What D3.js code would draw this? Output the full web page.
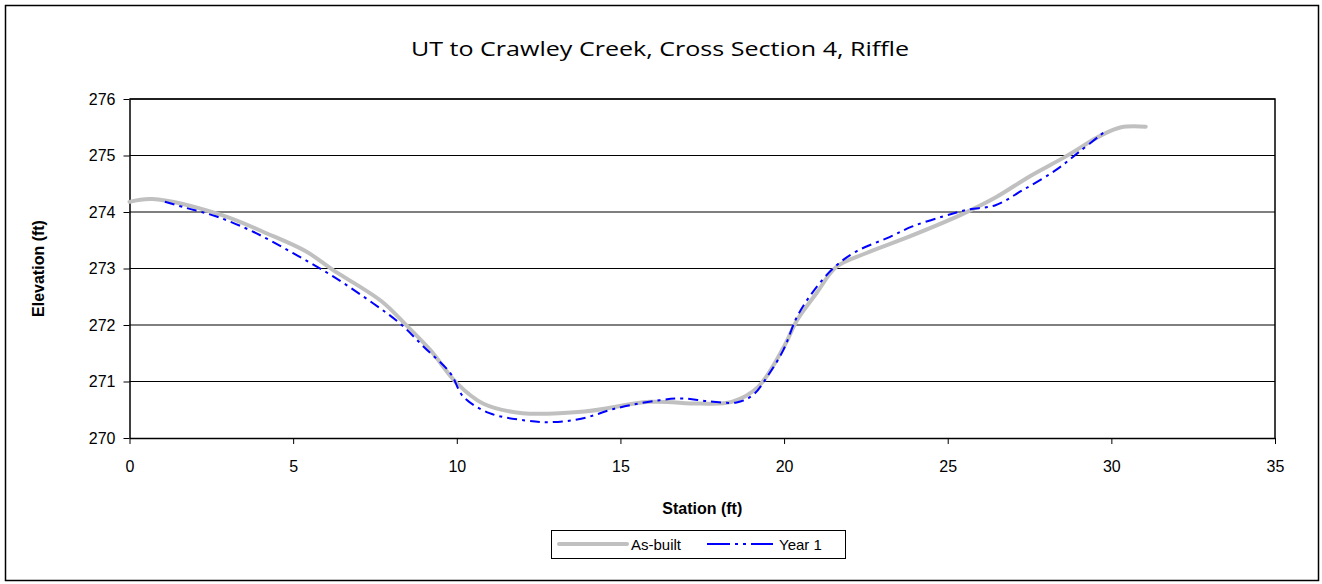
<!DOCTYPE html>
<html>
<head>
<meta charset="utf-8">
<script src="https://cdn.jsdelivr.net/npm/d3@7"></script>
<style>
  html, body { margin: 0; padding: 0; background: #fff; }
  svg { display: block; }
</style>
</head>
<body>
<svg id="chart" width="1322" height="584"></svg>
<script>
// Cross-section survey: station (ft) vs elevation (ft)
const asBuiltStation = [0, 0.7, 2.8, 4.2, 5.4, 6.2, 7.7, 8.5, 9.2, 10.0, 10.8, 12.0, 13.9, 15.9, 17.4, 18.4, 19.2, 20.0, 20.4, 21.0, 21.6, 22.5, 23.8, 25.4, 26.5, 27.5, 28.6, 29.7, 30.3, 31.05];
const asBuiltElev    = [274.18, 274.23, 273.95, 273.62, 273.3, 272.98, 272.42, 271.97, 271.55, 270.97, 270.61, 270.44, 270.47, 270.64, 270.61, 270.64, 270.9, 271.62, 272.09, 272.57, 273.03, 273.27, 273.56, 273.95, 274.27, 274.63, 274.98, 275.36, 275.5, 275.51];

const year1Station = [1.08, 1.75, 2.66, 3.78, 5.0, 6.22, 7.45, 8.26, 8.98, 9.8, 10.2, 11.0, 12.1, 12.85, 13.8, 14.9, 16.2, 16.9, 17.7, 18.55, 19.05, 19.5, 19.98, 20.4, 20.9, 21.55, 22.2, 23.24, 23.9, 24.85, 25.6, 26.46, 27.3, 28.3, 29.03, 29.75];
const year1Elev    = [274.18, 274.07, 273.92, 273.65, 273.27, 272.86, 272.38, 272.03, 271.62, 271.15, 270.73, 270.44, 270.31, 270.28, 270.34, 270.53, 270.67, 270.7, 270.65, 270.63, 270.76, 271.1, 271.56, 272.15, 272.6, 273.03, 273.3, 273.56, 273.74, 273.92, 274.04, 274.12, 274.39, 274.74, 275.07, 275.4];

const xTicks = [0, 5, 10, 15, 20, 25, 30, 35];
const yTicks = [270, 271, 272, 273, 274, 275, 276];

const titleText = "UT to Crawley Creek, Cross Section 4, Riffle";
const xTitle = "Station (ft)";
const yTitle = "Elevation (ft)";
const seriesNames = ["As-built", "Year 1"];

const SANS = "'Liberation Sans', Arial, sans-serif";
const svg = d3.select("#chart").style("font-family", SANS);
const W = 1322, H = 584;
const plot = { left: 129.5, right: 1275, top: 99, bottom: 438 };

// outer chart frame
svg.append("rect")
  .attr("x", 5.5).attr("y", 5.5).attr("width", W - 9).attr("height", H - 9)
  .attr("fill", "#fff").attr("stroke", "#000").attr("stroke-width", 1.5);

const x = d3.scaleLinear().domain([0, 35]).range([plot.left, plot.right]);
const y = d3.scaleLinear().domain([270, 276]).range([plot.bottom, plot.top]);

// horizontal gridlines
svg.append("g")
  .selectAll("line").data(yTicks.slice(1)).join("line")
  .attr("x1", plot.left).attr("x2", plot.right)
  .attr("y1", d => y(d)).attr("y2", d => y(d))
  .attr("stroke", "#000").attr("stroke-width", 1);

// plot area border (top and right)
svg.append("path")
  .attr("d", `M${plot.left},${plot.top}H${plot.right}V${plot.bottom}`)
  .attr("fill", "none").attr("stroke", "#000").attr("stroke-width", 1.5);

// axes
const xAxis = d3.axisBottom(x).tickValues(xTicks).tickFormat(d3.format("d"))
  .tickSize(6).tickSizeOuter(0).tickPadding(17);
const yAxis = d3.axisLeft(y).tickValues(yTicks).tickFormat(d3.format("d"))
  .tickSize(6).tickSizeOuter(0);

const gx = svg.append("g").attr("transform", `translate(0,${plot.bottom})`).call(xAxis);
const gy = svg.append("g").attr("transform", `translate(${plot.left},0)`).call(yAxis);
[gx, gy].forEach(g => {
  g.attr("font-family", SANS).attr("font-size", 16);
  g.select(".domain").attr("stroke", "#000").attr("stroke-width", 1.5);
  g.selectAll(".tick line").attr("stroke", "#000");
  g.selectAll(".tick text").attr("fill", "#000");
});
gy.selectAll(".tick text").attr("x", -14);

// title and axis titles
svg.append("text")
  .attr("x", 660).attr("y", 56).attr("text-anchor", "middle")
  .style("font-family", "'Liberation Sans Narrow', 'Open Sans', sans-serif")
  .attr("font-size", 20).attr("textLength", 498).attr("lengthAdjust", "spacingAndGlyphs")
  .text(titleText);

svg.append("text")
  .attr("x", (plot.left + plot.right) / 2).attr("y", 514).attr("text-anchor", "middle")
  .attr("font-size", 16).attr("font-weight", "bold")
  .text(xTitle);

svg.append("text")
  .attr("transform", `translate(44,${(plot.top + plot.bottom) / 2}) rotate(-90)`)
  .attr("text-anchor", "middle")
  .attr("font-size", 16).attr("font-weight", "bold")
  .text(yTitle);

// series lines
const line = d3.line()
  .x(d => x(d[0])).y(d => y(d[1]))
  .curve(d3.curveCatmullRom.alpha(0.5));

const asBuilt = asBuiltStation.map((s, i) => [s, asBuiltElev[i]]);
const year1 = year1Station.map((s, i) => [s, year1Elev[i]]);

svg.append("path").datum(asBuilt)
  .attr("d", line).attr("fill", "none")
  .attr("stroke", "#c0c0c0").attr("stroke-width", 4)
  .attr("stroke-linecap", "round").attr("stroke-linejoin", "round");

svg.append("path").datum(year1)
  .attr("d", line).attr("fill", "none")
  .attr("stroke", "#0000ff").attr("stroke-width", 2)
  .attr("stroke-dasharray", "10,5,3,5");

// legend
const lg = svg.append("g");
lg.append("rect")
  .attr("x", 551.5).attr("y", 530.5).attr("width", 294).attr("height", 28)
  .attr("fill", "#fff").attr("stroke", "#000").attr("stroke-width", 1);
lg.append("line")
  .attr("x1", 559).attr("x2", 627).attr("y1", 544).attr("y2", 544)
  .attr("stroke", "#c0c0c0").attr("stroke-width", 4).attr("stroke-linecap", "round");
lg.append("text").attr("x", 631).attr("y", 550).attr("font-size", 15).text(seriesNames[0]);
lg.append("line")
  .attr("x1", 707).attr("x2", 773).attr("y1", 544).attr("y2", 544)
  .attr("stroke", "#0000ff").attr("stroke-width", 2)
  .attr("stroke-dasharray", "23,5,3,5,3,5,30");
lg.append("text").attr("x", 779).attr("y", 550).attr("font-size", 15).text(seriesNames[1]);
</script>
</body>
</html>
